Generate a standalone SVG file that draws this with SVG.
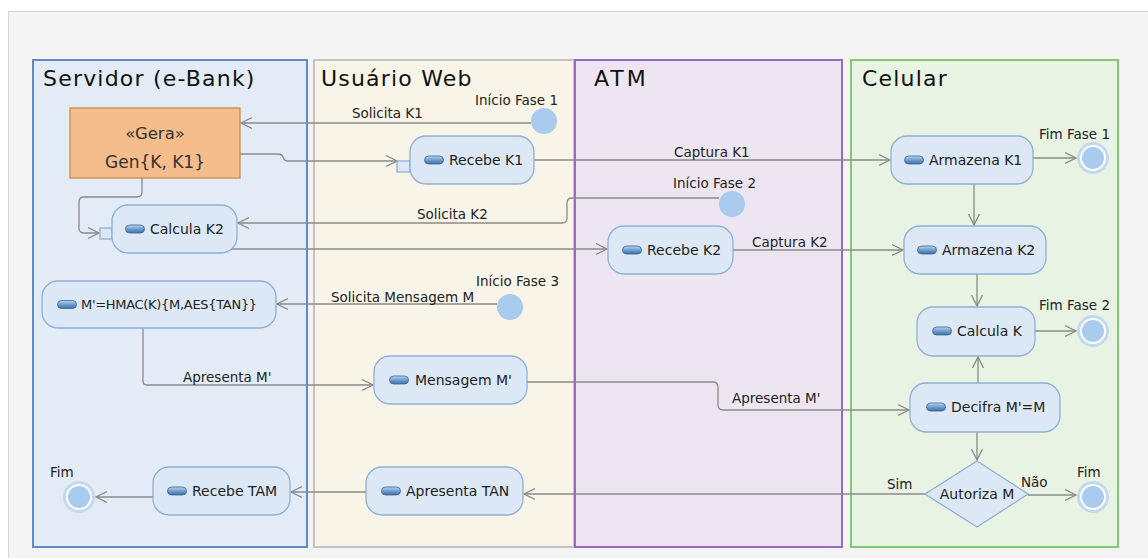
<svg xmlns="http://www.w3.org/2000/svg" width="1148" height="558" viewBox="0 0 1148 558">
<defs>
<linearGradient id="pill" x1="0" y1="0" x2="0" y2="1">
<stop offset="0" stop-color="#b9d3ee"/>
<stop offset="0.5" stop-color="#6e9fd0"/>
<stop offset="1" stop-color="#3f6fa3"/>
</linearGradient>
<marker id="arr" markerUnits="userSpaceOnUse" markerWidth="14" markerHeight="14" refX="11" refY="6" orient="auto" viewBox="0 0 14 12">
<path d="M0,0.5 L11,6 L0,11.5" fill="none" stroke="#8a8a8a" stroke-width="1.3"/>
</marker>
<symbol id="icon" viewBox="0 0 20 9" overflow="visible">
<rect x="0.5" y="0.5" width="19" height="8" rx="4" fill="url(#pill)" stroke="#3d6690" stroke-width="0.8"/>
</symbol>
</defs>
<style>
.lane{stroke-width:2}
.title{font-family:"DejaVu Sans",sans-serif;font-size:22px;fill:#111;letter-spacing:1.2px}
.act{fill:#dce8f5;stroke:#8fb0d4;stroke-width:1.3}
.lbl{font-family:"DejaVu Sans",sans-serif;font-size:14px;fill:#222}
.cl{font-family:"DejaVu Sans",sans-serif;font-size:13.5px;fill:#222}
.con{fill:none;stroke:#8a8a8a;stroke-width:1.3}
.arrow{marker-end:url(#arr)}
.init{fill:#a9cbee}
</style>
<rect x="0" y="0" width="1148" height="558" fill="#ffffff"/>
<rect x="8.5" y="11.5" width="1145" height="552" fill="#f4f4f4" stroke="#d6d6d6"/>

<g id="lane-servidor">
<rect class="lane" x="33" y="60" width="274" height="487" fill="#e3ecf6" stroke="#5b8bc8"/>
<text class="title" x="43" y="86">Servidor (e-Bank)</text>
</g>
<g id="lane-usuario">
<rect class="lane" x="314" y="60" width="260" height="487" fill="#f8f5e8" stroke="#c4c4c4"/>
<text class="title" x="321" y="86">Usuário Web</text>
</g>
<g id="lane-atm">
<rect class="lane" x="575" y="60" width="267" height="487" fill="#ede6f2" stroke="#9a69c0"/>
<text class="title" x="594" y="86" style="letter-spacing:3px">ATM</text>
</g>
<g id="lane-celular">
<rect class="lane" x="851" y="60" width="267" height="487" fill="#e8f3e3" stroke="#7dca70"/>
<text class="title" x="862" y="86">Celular</text>
</g>

<g id="connectors">
<path class="con arrow" d="M531,123 H241"/>
<text class="cl" x="352" y="118">Solicita K1</text>
<path class="con arrow" d="M240,154 H278 Q282,154 283,157 Q284,161 288,161 H397"/>
<path class="con arrow" d="M534,160 H890"/>
<text class="cl" x="674" y="157">Captura K1</text>
<path class="con arrow" d="M1033,158 H1076"/>
<path class="con arrow" d="M974,184 V225"/>
<path class="con arrow" d="M142,178 V192 Q142,197 137,197 H84 Q79,197 79,202 V228 Q79,233 84,233 H99"/>
<path class="con arrow" d="M719,198 H572 Q567,198 567,203 V218 Q567,223 562,223 H238"/>
<text class="cl" x="417" y="219">Solicita K2</text>
<path class="con arrow" d="M228,249 H607"/>
<path class="con arrow" d="M733,250 H903"/>
<text class="cl" x="752" y="247">Captura K2</text>
<path class="con arrow" d="M977,274 V306"/>
<path class="con arrow" d="M1035,331 H1076"/>
<path class="con arrow" d="M978,383 V357"/>
<path class="con arrow" d="M977,432 V460"/>
<path class="con arrow" d="M1028,495 H1076"/>
<text class="cl" x="1021" y="487">Não</text>
<path class="con arrow" d="M925,494 H524"/>
<text class="cl" x="887" y="489">Sim</text>
<path class="con arrow" d="M497,304 H277"/>
<text class="cl" x="331" y="302">Solicita Mensagem M</text>
<path class="con arrow" d="M143,328 V381 Q143,385 147,385 H373"/>
<text class="cl" x="183" y="382">Apresenta M'</text>
<path class="con arrow" d="M527,382 H713 Q718,382 718,387 V405 Q718,410 723,410 H909"/>
<text class="cl" x="732" y="403">Apresenta M'</text>
<path class="con arrow" d="M366,492 H291"/>
<path class="con arrow" d="M153,497 H96"/>
</g>

<g id="gera">
<rect x="70" y="108" width="170" height="70" fill="#f5bd8b" stroke="#c98a52" stroke-width="1.3"/>
<text x="155" y="139" text-anchor="middle" font-family="DejaVu Sans, sans-serif" font-size="16.5" fill="#333">«Gera»</text>
<text x="155" y="168" text-anchor="middle" font-family="DejaVu Sans, sans-serif" font-size="17" fill="#333">Gen{K, K1}</text>
</g>

<g id="inicio-fase-1">
<circle class="init" cx="544" cy="121" r="13"/>
<text class="cl" x="475" y="105">Início Fase 1</text>
</g>
<g id="inicio-fase-2">
<circle class="init" cx="732" cy="204" r="13"/>
<text class="cl" x="673" y="188">Início Fase 2</text>
</g>
<g id="inicio-fase-3">
<circle class="init" cx="510" cy="307" r="13"/>
<text class="cl" x="476" y="286">Início Fase 3</text>
</g>

<g id="recebe-k1">
<rect class="act" x="397" y="161" width="13" height="11"/>
<rect class="act" x="410" y="136" width="124" height="48" rx="16"/>
<use href="#icon" x="424" y="155.5" width="20" height="9"/>
<text class="lbl" x="449" y="165">Recebe K1</text>
</g>

<g id="calcula-k2">
<rect class="act" x="100" y="228" width="12" height="11"/>
<rect class="act" x="112" y="205" width="125" height="48" rx="16"/>
<use href="#icon" x="125" y="224.5" width="20" height="9"/>
<text class="lbl" x="150" y="234">Calcula K2</text>
</g>

<g id="armazena-k1">
<rect class="act" x="891" y="136" width="142" height="48" rx="16"/>
<use href="#icon" x="904" y="155.5" width="20" height="9"/>
<text class="lbl" x="929" y="165">Armazena K1</text>
</g>

<g id="fim-fase-1">
<circle cx="1093" cy="158" r="16" fill="#c3d9ef"/>
<circle cx="1093" cy="158" r="13" fill="#ffffff"/>
<circle cx="1093" cy="158" r="11" fill="#a9cbee"/>
<text class="cl" x="1039" y="139">Fim Fase 1</text>
</g>

<g id="recebe-k2">
<rect class="act" x="608" y="226" width="125" height="48" rx="16"/>
<use href="#icon" x="622" y="245.5" width="20" height="9"/>
<text class="lbl" x="647" y="255">Recebe K2</text>
</g>

<g id="armazena-k2">
<rect class="act" x="904" y="226" width="142" height="48" rx="16"/>
<use href="#icon" x="917" y="245.5" width="20" height="9"/>
<text class="lbl" x="942" y="255">Armazena K2</text>
</g>

<g id="calcula-k">
<rect class="act" x="917" y="307" width="118" height="49" rx="16"/>
<use href="#icon" x="932" y="326.5" width="20" height="9"/>
<text class="lbl" x="957" y="336">Calcula K</text>
</g>

<g id="fim-fase-2">
<circle cx="1093" cy="331" r="16" fill="#c3d9ef"/>
<circle cx="1093" cy="331" r="13" fill="#ffffff"/>
<circle cx="1093" cy="331" r="11" fill="#a9cbee"/>
<text class="cl" x="1039" y="310">Fim Fase 2</text>
</g>

<g id="hmac">
<rect class="act" x="42" y="281" width="234" height="47" rx="16"/>
<use href="#icon" x="57" y="300" width="20" height="9"/>
<text class="lbl" x="81" y="309" style="font-size:13px;letter-spacing:-0.3px">M'=HMAC(K){M,AES{TAN}}</text>
</g>

<g id="mensagem-m">
<rect class="act" x="374" y="356" width="153" height="48" rx="16"/>
<use href="#icon" x="389" y="375.5" width="20" height="9"/>
<text class="lbl" x="415" y="385">Mensagem M'</text>
</g>

<g id="decifra">
<rect class="act" x="910" y="383" width="150" height="49" rx="16"/>
<use href="#icon" x="926" y="402.5" width="20" height="9"/>
<text class="lbl" x="951" y="412">Decifra M'=M</text>
</g>

<g id="autoriza-m">
<polygon class="act" points="977,461 1028,494 977,527 925,494"/>
<text class="lbl" x="977" y="499" text-anchor="middle">Autoriza M</text>
</g>

<g id="fim-celular">
<circle cx="1093" cy="497" r="16" fill="#c3d9ef"/>
<circle cx="1093" cy="497" r="13" fill="#ffffff"/>
<circle cx="1093" cy="497" r="11" fill="#a9cbee"/>
<text class="cl" x="1077" y="477">Fim</text>
</g>

<g id="apresenta-tan">
<rect class="act" x="366" y="467" width="157" height="48" rx="16"/>
<use href="#icon" x="381" y="486.5" width="20" height="9"/>
<text class="lbl" x="406" y="496">Apresenta TAN</text>
</g>

<g id="recebe-tam">
<rect class="act" x="153" y="467" width="137" height="48" rx="16"/>
<use href="#icon" x="167" y="486.5" width="20" height="9"/>
<text class="lbl" x="192" y="496">Recebe TAM</text>
</g>

<g id="fim-servidor">
<circle cx="79" cy="497" r="16" fill="#c3d9ef"/>
<circle cx="79" cy="497" r="13" fill="#ffffff"/>
<circle cx="79" cy="497" r="11" fill="#a9cbee"/>
<text class="cl" x="50" y="477">Fim</text>
</g>
</svg>
